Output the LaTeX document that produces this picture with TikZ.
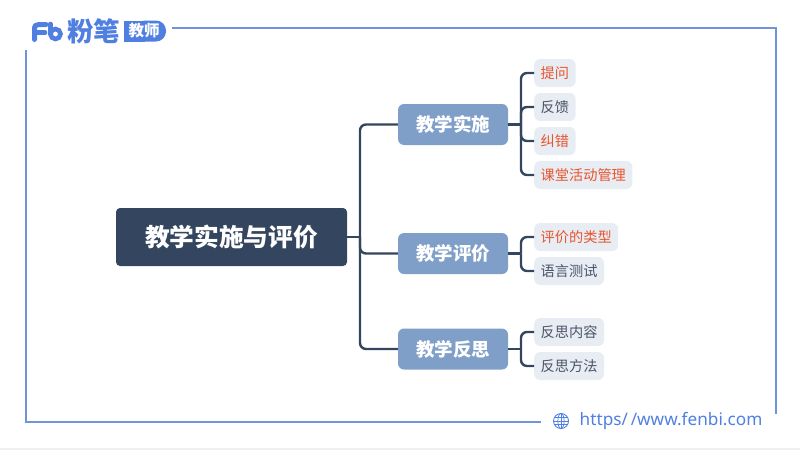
\documentclass[tikz,border=0pt]{standalone}
\usepackage{xcolor}
\usepackage{fontspec}
\usepackage{tikz}

\setmainfont{Noto Sans CJK SC}
\newfontfamily\urlfont{Noto Sans}

\definecolor{rootblue}{HTML}{34465F}
\definecolor{midblue}{HTML}{7F9FC9}
\definecolor{leafgrey}{HTML}{E8ECF3}
\definecolor{leaforange}{HTML}{E8552D}
\definecolor{leaftext}{HTML}{4A5568}
\definecolor{frameblue}{HTML}{6F94D8}
\definecolor{logoblue}{HTML}{4F7FE0}

\tikzset{
	rootbox/.style={fill=rootblue, text=white, rounded corners=4, minimum width=231, minimum height=58, inner sep=0, font=\fontsize{24.7}{24.7}\selectfont\bfseries},
	midbox/.style={fill=midblue, text=white, rounded corners=6, minimum width=110, minimum height=41, inner sep=0, font=\fontsize{18.5}{18.5}\selectfont\bfseries},
	leafbox/.style={fill=leafgrey, text=leaftext, rounded corners=6, minimum height=28, inner xsep=6.5, inner ysep=0, anchor=west, font=\fontsize{14.2}{14.2}\selectfont},
	hotbox/.style={leafbox, text=leaforange},
	branch/.style={draw=rootblue, line width=2.4, rounded corners=6},
	frameline/.style={draw=frameblue, line width=1.3}
}

\begin{document}
\begin{tikzpicture}[x=1pt, y=-1pt]

\useasboundingbox (0,0) rectangle (800,450);

% frame
\fill[black!6] (0,448) rectangle (800,450);
\coordinate (frameA) at (172,28);
\coordinate (frameB) at (776,28);
\coordinate (frameC) at (776,414);
\coordinate (frameD) at (541,422);
\coordinate (frameE) at (26,422);
\coordinate (frameF) at (26,50);
\draw[frameline] (frameA)--(frameB)--(frameC);
\draw[frameline] (frameD)--(frameE)--(frameF);

% logo
\draw[logoblue, line width=5, line cap=round, line join=round] (34.5,39.5) -- (34.5,29) .. controls (34.5,25.5) and (36,24.5) .. (39,24.5) -- (46,24.5);
\draw[logoblue, line width=4.6, line cap=round] (35,32.5) -- (45,32.5);
\draw[logoblue, line width=4.6, line cap=round] (50.5,24) -- (50.5,34);
\draw[logoblue, line width=4.6] (55.5,34) circle (5);
\node[text=logoblue, inner sep=0, font=\fontsize{26.5}{26.5}\selectfont\bfseries] (logotext) at (93.5,31) {粉笔};
\fill[logoblue] (124,20.5) rectangle (145,41.5);
\fill[logoblue, rounded corners=10] (135,20.5) -- (166,20.5) -- (166,41.5) -- (135,41.5) -- cycle;
\node[text=white, inner sep=0, font=\fontsize{15.5}{15.5}\selectfont\bfseries] (logotag) at (144,31) {教师};

% nodes
\node[rootbox] (pingjia) at (231.5,237) {教学实施与评价};

\node[midbox] (shishi) at (453,124.5) {教学实施};
\node[midbox] (ceping) at (453,253.5) {教学评价};
\node[midbox] (fansi) at (453,349) {教学反思};

\node[hotbox] (tiwen) at (534,73) {提问};
\node[leafbox] (fankui) at (534,107) {反馈};
\node[hotbox] (jiucuo) at (534,141) {纠错};
\node[hotbox] (guanli) at (534,175) {课堂活动管理};
\node[hotbox] (leixing) at (534,237) {评价的类型};
\node[leafbox] (ceshi) at (534,271) {语言测试};
\node[leafbox] (neirong) at (534,332) {反思内容};
\node[leafbox] (fangfa) at (534,366) {反思方法};

\coordinate (knotroot) at (360,237);
\coordinate (knotshishi) at (521,124.5);
\coordinate (knotceping) at (521,253.5);
\coordinate (knotfansi) at (521,349);

% connectors
\draw[branch] (pingjia.east) -- (knotroot);
\foreach \a in {shishi,ceping,fansi}{
	\draw[branch] (\a.west) -| (knotroot);
}
\draw[branch] (shishi.east) -- (knotshishi);
\foreach \a in {tiwen,fankui,jiucuo,guanli}{
	\draw[branch] (\a.west) -| (knotshishi);
}
\draw[branch] (ceping.east) -- (knotceping);
\foreach \a in {leixing,ceshi}{
	\draw[branch] (\a.west) -| (knotceping);
}
\draw[branch] (fansi.east) -- (knotfansi);
\foreach \a in {neirong,fangfa}{
	\draw[branch] (\a.west) -| (knotfansi);
}

% footer
\coordinate (globe) at (561,421);
\draw[logoblue, line width=0.9] (globe) circle (7.5);
\draw[logoblue, line width=0.7] (globe) ellipse (3.2 and 7.5);
\draw[logoblue, line width=0.7] (553.5,421) -- (568.5,421);
\draw[logoblue, line width=0.7] (554.5,417.5) -- (567.5,417.5);
\draw[logoblue, line width=0.7] (554.5,424.5) -- (567.5,424.5);
\draw[logoblue, line width=0.7] (561,413.5) -- (561,428.5);
\node[text=logoblue, inner sep=0, anchor=west, font=\urlfont\fontsize{17.2}{17.2}\selectfont] (weburl) at (579.5,420.5) {https/\,/www.fenbi.com};

\end{tikzpicture}
\end{document}
